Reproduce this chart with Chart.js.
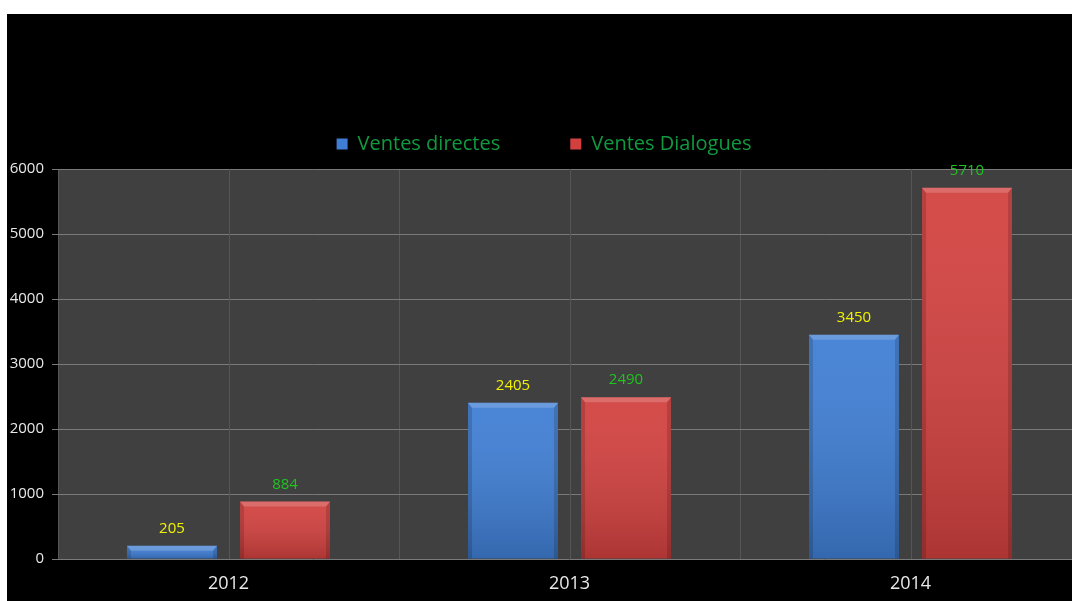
<!DOCTYPE html>
<html>
<head>
<meta charset="utf-8">
<script src="https://cdn.jsdelivr.net/npm/chart.js@4.4.0/dist/chart.umd.min.js"></script>
<style>
	html, body { margin: 0; padding: 0; background: #ffffff; overflow: hidden; width: 1072px; height: 601px; }
	#wrap { position: absolute; left: 7px; top: 14px; width: 1074px; height: 587px; background: #000000; }
</style>
</head>
<body>
<div id="wrap"><canvas id="chartVentes"></canvas></div>
<script>
// données du graphique
var annees = ['2012', '2013', '2014'];
var ventesDirectes = [205, 2405, 3450];
var ventesDialogues = [884, 2490, 5710];
var yTicks = [0, 1000, 2000, 3000, 4000, 5000, 6000];

// fond gris de la zone de tracé + lignes verticales au milieu des catégories
var fondPlugin = {
	id: 'fond',
	afterLayout: function(chart) {
		// remonte un peu la légende
		chart.legend.top -= 5;
		chart.legend.bottom -= 5;
	},
	beforeDraw: function(chart) {
		var ctx = chart.ctx, a = chart.chartArea;
		ctx.save();
		ctx.fillStyle = '#000000';
		ctx.fillRect(0, 0, chart.width, chart.height);
		ctx.fillStyle = '#404040';
		ctx.fillRect(a.left, a.top, a.right - a.left, a.bottom - a.top);
		ctx.restore();
	},
	beforeDatasetsDraw: function(chart) {
		var ctx = chart.ctx, a = chart.chartArea, x = chart.scales.x;
		ctx.save();
		ctx.strokeStyle = '#565656';
		ctx.lineWidth = 1;
		for (var i = 0; i < annees.length; i++) {
			var px = Math.round(x.getPixelForValue(i)) + 0.5;
			ctx.beginPath();
			ctx.moveTo(px, a.top);
			ctx.lineTo(px, a.bottom);
			ctx.stroke();
		}
		ctx.restore();
	}
};

// effet biseau sur les barres + étiquettes de valeurs
var barresPlugin = {
	id: 'barres',
	afterDatasetsDraw: function(chart) {
		var ctx = chart.ctx;
		var couleursTexte = ['#f2f200', '#1fc41f'];
		chart.data.datasets.forEach(function(ds, di) {
			var meta = chart.getDatasetMeta(di);
			meta.data.forEach(function(bar, i) {
				var l = bar.x - bar.width / 2, r = bar.x + bar.width / 2;
				var t = bar.y, b = bar.base, h = b - t;
				ctx.save();
				// dégradé vertical
				var g = ctx.createLinearGradient(0, t, 0, b);
				g.addColorStop(0, 'rgba(255,255,255,0.06)');
				g.addColorStop(1, 'rgba(0,0,0,0.18)');
				ctx.fillStyle = g;
				ctx.fillRect(l, t, r - l, h);
				// bords latéraux plus sombres
				var e = Math.min(5, h / 2);
				ctx.fillStyle = 'rgba(0,0,0,0.15)';
				ctx.beginPath();
				ctx.moveTo(l, t); ctx.lineTo(l + 4, t + e); ctx.lineTo(l + 4, b); ctx.lineTo(l, b); ctx.closePath();
				ctx.fill();
				ctx.beginPath();
				ctx.moveTo(r, t); ctx.lineTo(r - 4, t + e); ctx.lineTo(r - 4, b); ctx.lineTo(r, b); ctx.closePath();
				ctx.fill();
				// biseau du haut plus clair
				ctx.fillStyle = 'rgba(255,255,255,0.18)';
				ctx.beginPath();
				ctx.moveTo(l, t); ctx.lineTo(r, t); ctx.lineTo(r - 4, t + e); ctx.lineTo(l + 4, t + e); ctx.closePath();
				ctx.fill();
				ctx.restore();

				ctx.save();
				ctx.fillStyle = couleursTexte[di];
				ctx.font = '15px "Open Sans"';
				ctx.textAlign = 'center';
				ctx.textBaseline = 'middle';
				ctx.fillText(ds.data[i], bar.x, t - 17);
				ctx.restore();
			});
		});
	}
};

var chartArea = document.getElementById('chartVentes');
var myChart = new Chart(chartArea, {
	type: 'bar',
	data: {
		labels: annees,
		datasets: [
			{
				label: 'Ventes directes',
				data: ventesDirectes,
				backgroundColor: '#3f7ed4',
				categoryPercentage: 0.663,
				barPercentage: 0.796
			},
			{
				label: 'Ventes Dialogues',
				data: ventesDialogues,
				backgroundColor: '#d2413f',
				categoryPercentage: 0.663,
				barPercentage: 0.796
			}
		]
	},
	options: {
		responsive: true,
		maintainAspectRatio: false,
		animation: false,
		layout: { padding: { top: 55, right: 0, left: 0, bottom: 0 } },
		plugins: {
			legend: {
				position: 'top',
				labels: {
					color: '#109a40',
					font: { family: 'Open Sans', size: 20 },
					boxWidth: 11,
					boxHeight: 11,
					padding: 70
				}
			},
			tooltip: { enabled: false }
		},
		scales: {
			x: {
				grid: { color: '#565656', offset: true, drawTicks: false },
				border: { display: false },
				ticks: { color: '#e8e8e8', font: { family: 'Open Sans', size: 18 }, padding: 14 },
				afterFit: function(scale) { scale.height = 42; }
			},
			y: {
				min: 0,
				max: 6000,
				afterBuildTicks: function(scale) {
					scale.ticks = yTicks.map(function(v) { return { value: v }; });
				},
				grid: { color: '#7a7a7a', tickLength: 6 },
				border: { display: false },
				ticks: {
					color: '#e8e8e8',
					font: { family: 'Open Sans', size: 15 },
					padding: 8,
					callback: function(v) { return String(v); }
				},
				afterFit: function(scale) { scale.width = 51; }
			}
		}
	},
	plugins: [fondPlugin, barresPlugin]
});
</script>
</body>
</html>
